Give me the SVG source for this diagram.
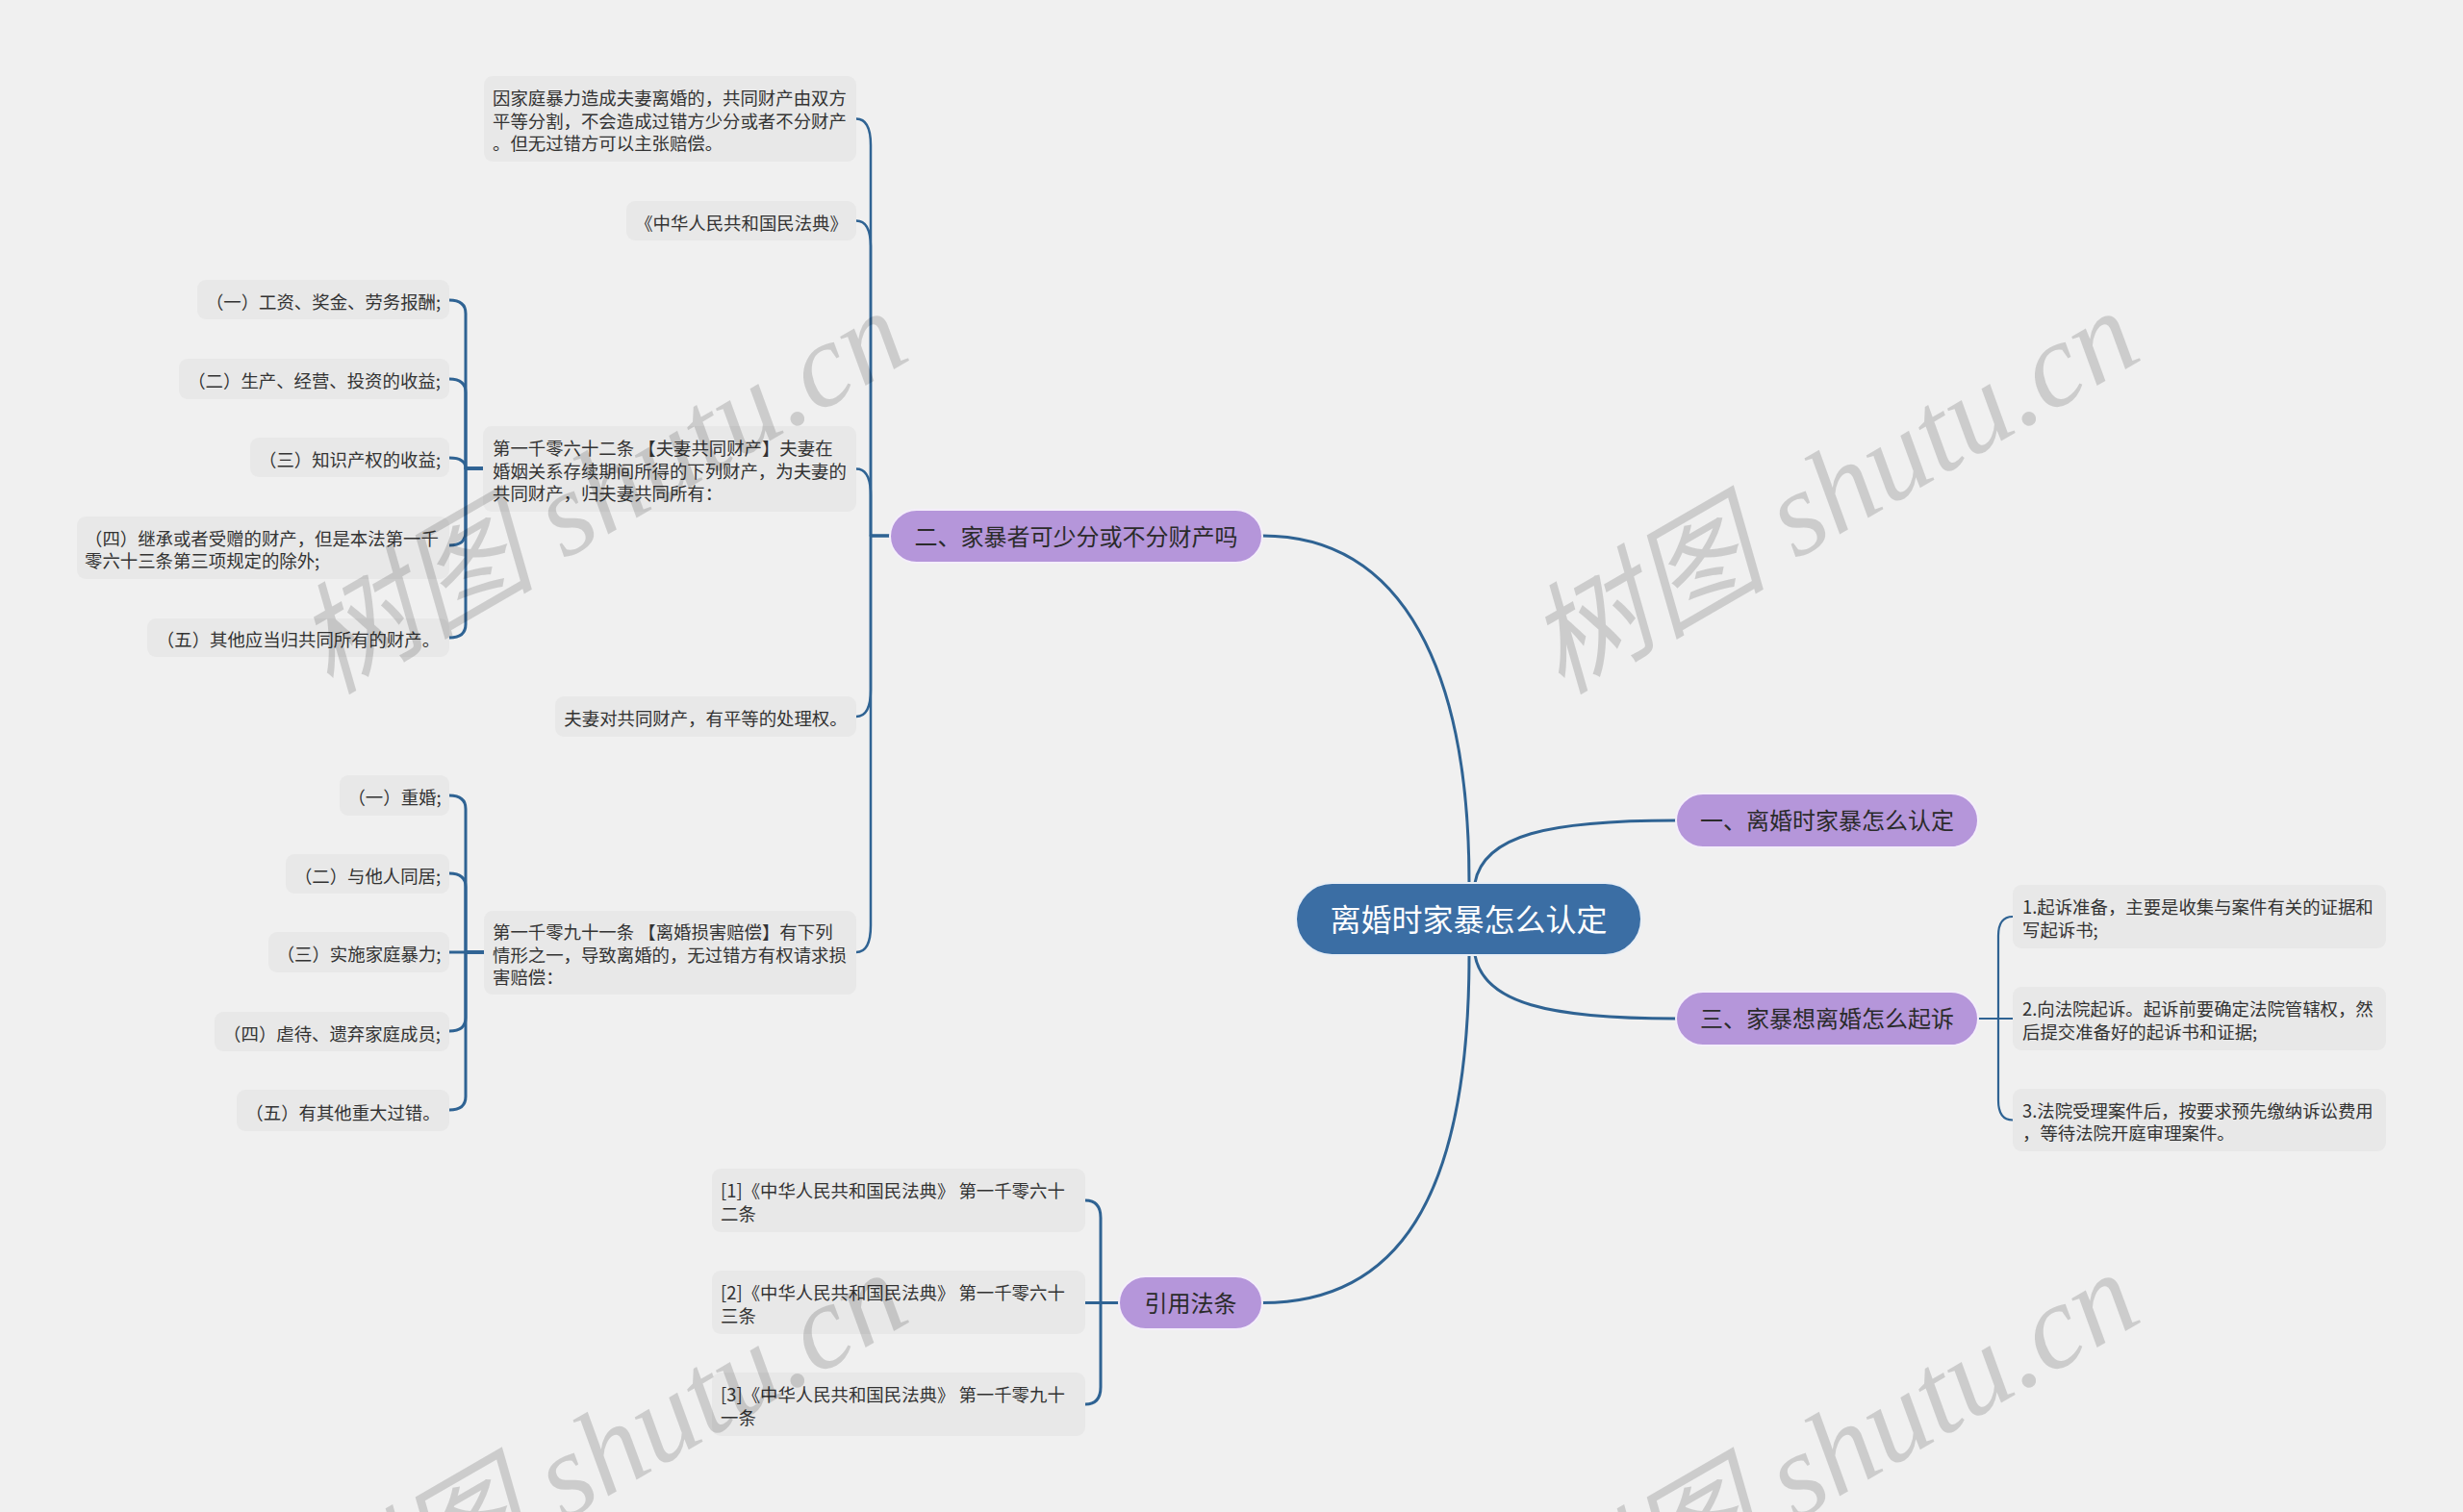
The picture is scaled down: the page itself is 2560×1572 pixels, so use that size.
<svg xmlns="http://www.w3.org/2000/svg" width="2560" height="1572" viewBox="0 0 2560 1572">
<style>
.leaf{fill:#e8e8e8}
.t{font-family:"Noto Sans CJK SC","Liberation Sans",sans-serif;font-size:18.4px;fill:#333}
.m{fill:#b596da;stroke:#f4eefa;stroke-width:2}
.mt{font-family:"Noto Sans CJK SC","Liberation Sans",sans-serif;font-size:24px;fill:#2b2b2b;text-anchor:middle}
.c{fill:none;stroke:#2f6393;stroke-linecap:round;stroke-linejoin:round}
.wm{font-family:"Liberation Serif","Noto Sans CJK SC",serif;font-style:italic;font-size:125px;fill:#000;fill-opacity:0.15;text-anchor:end}
</style>
<rect x="0" y="0" width="2560" height="1572" fill="#f0f0f0"/>

<g id="connectors">
  <g class="c" stroke-width="3">
    <path d="M1312,557 C1460,557 1527,700 1527,918"/>
    <path d="M1533,918 C1542,868 1610,853 1742,853"/>
    <path d="M1533,993 C1542,1043 1610,1059 1742,1059"/>
    <path d="M1527,993 C1527,1250 1450,1354.5 1312,1354.5"/>
  </g>
  <g class="c" stroke-width="2.5">
    <path d="M925,557 H905 V151 Q905,123.5 890,123.5"/>
    <path d="M925,557 H905 V257 Q905,229.5 890,229.5"/>
    <path d="M925,557 H905 V515 Q905,487.5 890,487.5"/>
    <path d="M925,557 H905 V717 Q905,745 890,745"/>
    <path d="M925,557 H905 V962 Q905,990 890,990"/>
  </g>
  <g class="c" stroke-width="3">
    <path d="M502,487 H484 V326 Q484,312 467,312"/>
    <path d="M502,487 H484 V408 Q484,394 467,394"/>
    <path d="M502,487 H484 Q484,476 467,476"/>
    <path d="M502,487 H484 V553 Q484,567 467,567"/>
    <path d="M502,487 H484 V649 Q484,663 467,663"/>
    <path d="M503,990 H484 V841 Q484,827 467,827"/>
    <path d="M503,990 H484 V922 Q484,908 467,908"/>
    <path d="M503,990 H467"/>
    <path d="M503,990 H484 V1058 Q484,1072 467,1072"/>
    <path d="M503,990 H484 V1140 Q484,1154 467,1154"/>
    <path d="M1163,1354.5 H1144 V1266 Q1144,1248 1128,1248"/>
    <path d="M1163,1354.5 H1128"/>
    <path d="M1163,1354.5 H1144 V1442 Q1144,1460 1128,1460"/>
  </g>
  <g class="c" stroke-width="2.2">
    <path d="M2056,1059 H2077 V973 Q2077,953 2092,953"/>
    <path d="M2056,1059 H2092"/>
    <path d="M2056,1059 H2077 V1144 Q2077,1164.5 2092,1164.5"/>
  </g>
</g>

<g id="center">
  <rect x="1347" y="918" width="359" height="75" rx="37.5" fill="#3b6ea4" stroke="#e8eef5" stroke-width="2"/>
  <text x="1526.5" y="967.5" font-family="Noto Sans CJK SC, Liberation Sans, sans-serif" font-size="32" fill="#ffffff" text-anchor="middle">离婚时家暴怎么认定</text>
</g>

<g id="n2">
  <rect class="m" x="925" y="530" width="387" height="55" rx="27.5"/>
  <text class="mt" x="1118.5" y="566.5">二、家暴者可少分或不分财产吗</text>
</g>
<g id="n1">
  <rect class="m" x="1742" y="825" width="314" height="56" rx="28"/>
  <text class="mt" x="1899" y="862">一、离婚时家暴怎么认定</text>
</g>
<g id="n3">
  <rect class="m" x="1742" y="1031" width="314" height="56" rx="28"/>
  <text class="mt" x="1899" y="1068">三、家暴想离婚怎么起诉</text>
</g>
<g id="n4">
  <rect class="m" x="1163" y="1327" width="149" height="55" rx="27.5"/>
  <text class="mt" x="1237.5" y="1363.5">引用法条</text>
</g>

<g id="l1">
  <rect class="leaf" x="503" y="79" width="387" height="89" rx="9"/>
  <text class="t" x="512" y="109">因家庭暴力造成夫妻离婚的，共同财产由双方</text>
  <text class="t" x="512" y="132.5">平等分割，不会造成过错方少分或者不分财产</text>
  <text class="t" x="512" y="156">。但无过错方可以主张赔偿。</text>
</g>
<g id="l2">
  <rect class="leaf" x="651" y="209" width="239" height="41" rx="9"/>
  <text class="t" x="770.5" y="238.5" text-anchor="middle">《中华人民共和国民法典》</text>
</g>
<g id="l3">
  <rect class="leaf" x="502" y="443" width="388" height="89" rx="9"/>
  <text class="t" x="512" y="473">第一千零六十二条 【夫妻共同财产】夫妻在</text>
  <text class="t" x="512" y="496.5">婚姻关系存续期间所得的下列财产，为夫妻的</text>
  <text class="t" x="512" y="520">共同财产，归夫妻共同所有：</text>
</g>
<g id="l4">
  <rect class="leaf" x="577" y="724" width="313" height="42" rx="9"/>
  <text class="t" x="733.5" y="754" text-anchor="middle">夫妻对共同财产，有平等的处理权。</text>
</g>
<g id="l5">
  <rect class="leaf" x="503" y="947" width="387" height="87" rx="9"/>
  <text class="t" x="512" y="976">第一千零九十一条 【离婚损害赔偿】有下列</text>
  <text class="t" x="512" y="999.5">情形之一，导致离婚的，无过错方有权请求损</text>
  <text class="t" x="512" y="1023">害赔偿：</text>
</g>

<g id="a1">
  <rect class="leaf" x="205" y="291" width="262" height="41" rx="9"/>
  <text class="t" x="336" y="320.5" text-anchor="middle">（一）工资、奖金、劳务报酬;</text>
</g>
<g id="a2">
  <rect class="leaf" x="186" y="373" width="281" height="42" rx="9"/>
  <text class="t" x="326.5" y="403" text-anchor="middle">（二）生产、经营、投资的收益;</text>
</g>
<g id="a3">
  <rect class="leaf" x="260" y="455" width="207" height="41" rx="9"/>
  <text class="t" x="363.5" y="484.5" text-anchor="middle">（三）知识产权的收益;</text>
</g>
<g id="a4">
  <rect class="leaf" x="80" y="537" width="387" height="65" rx="9"/>
  <text class="t" x="88" y="566.75">（四）继承或者受赠的财产，但是本法第一千</text>
  <text class="t" x="88" y="590.25">零六十三条第三项规定的除外;</text>
</g>
<g id="a5">
  <rect class="leaf" x="153" y="643" width="314" height="40" rx="9"/>
  <text class="t" x="310" y="672" text-anchor="middle">（五）其他应当归共同所有的财产。</text>
</g>

<g id="b1">
  <rect class="leaf" x="353" y="806" width="114" height="42" rx="9"/>
  <text class="t" x="410" y="836" text-anchor="middle">（一）重婚;</text>
</g>
<g id="b2">
  <rect class="leaf" x="297" y="888" width="170" height="41" rx="9"/>
  <text class="t" x="382" y="917.5" text-anchor="middle">（二）与他人同居;</text>
</g>
<g id="b3">
  <rect class="leaf" x="279" y="969" width="188" height="42" rx="9"/>
  <text class="t" x="373" y="999" text-anchor="middle">（三）实施家庭暴力;</text>
</g>
<g id="b4">
  <rect class="leaf" x="223" y="1052" width="244" height="41" rx="9"/>
  <text class="t" x="345" y="1081.5" text-anchor="middle">（四）虐待、遗弃家庭成员;</text>
</g>
<g id="b5">
  <rect class="leaf" x="246" y="1133" width="221" height="43" rx="9"/>
  <text class="t" x="356.5" y="1163.5" text-anchor="middle">（五）有其他重大过错。</text>
</g>

<g id="r1">
  <rect class="leaf" x="2092" y="920" width="388" height="66" rx="9"/>
  <text class="t" x="2102" y="950.25">1.起诉准备，主要是收集与案件有关的证据和</text>
  <text class="t" x="2102" y="973.75">写起诉书;</text>
</g>
<g id="r2">
  <rect class="leaf" x="2092" y="1026" width="388" height="66" rx="9"/>
  <text class="t" x="2102" y="1056.25">2.向法院起诉。起诉前要确定法院管辖权，然</text>
  <text class="t" x="2102" y="1079.75">后提交准备好的起诉书和证据;</text>
</g>
<g id="r3">
  <rect class="leaf" x="2092" y="1132" width="388" height="65" rx="9"/>
  <text class="t" x="2102" y="1161.75">3.法院受理案件后，按要求预先缴纳诉讼费用</text>
  <text class="t" x="2102" y="1185.25">，等待法院开庭审理案件。</text>
</g>

<g id="c1">
  <rect class="leaf" x="740" y="1215" width="388" height="66" rx="9"/>
  <text class="t" x="749" y="1245.25">[1]《中华人民共和国民法典》 第一千零六十</text>
  <text class="t" x="749" y="1268.75">二条</text>
</g>
<g id="c2">
  <rect class="leaf" x="740" y="1321" width="388" height="66" rx="9"/>
  <text class="t" x="749" y="1351.25">[2]《中华人民共和国民法典》 第一千零六十</text>
  <text class="t" x="749" y="1374.75">三条</text>
</g>
<g id="c3">
  <rect class="leaf" x="740" y="1427" width="388" height="66" rx="9"/>
  <text class="t" x="749" y="1457.25">[3]《中华人民共和国民法典》 第一千零九十</text>
  <text class="t" x="749" y="1480.75">一条</text>
</g>

<g id="watermarks">
  <text class="wm" transform="translate(950,372) rotate(-30)">树图 shutu.cn</text>
  <text class="wm" transform="translate(2230,372) rotate(-30)">树图 shutu.cn</text>
  <text class="wm" transform="translate(950,1372) rotate(-30)">树图 shutu.cn</text>
  <text class="wm" transform="translate(2230,1372) rotate(-30)">树图 shutu.cn</text>
</g>
</svg>
